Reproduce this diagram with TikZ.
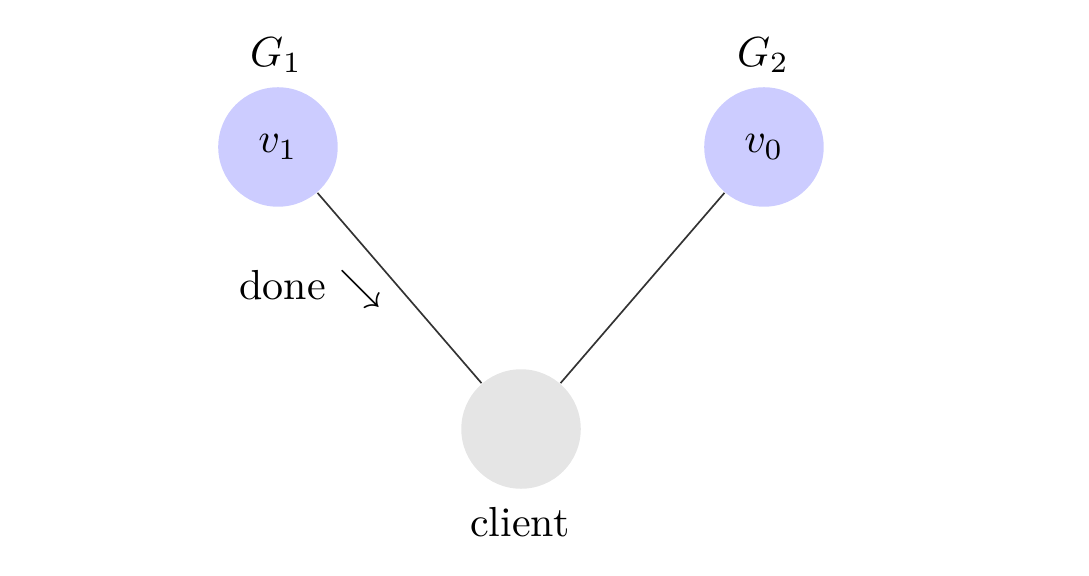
\documentclass[tikz,border=0pt]{standalone}
\begin{document}
\begin{tikzpicture}[
  vnode/.style={circle, fill=blue!20, minimum size=1cm, inner sep=0pt},
  cnode/.style={circle, fill=gray!20, minimum size=1cm, inner sep=0pt},
  lbl/.style={inner sep=0pt},
  edge/.style={draw=black!80, line width=0.4pt}
]
\useasboundingbox (0,0) rectangle (9.113,-4.820);
\node[vnode] (v1) at (2.326,-1.230) {$v_1$};
\node[vnode] (v0) at (6.393,-1.230) {$v_0$};
\node[cnode] (client) at (4.360,-3.590) {};
\node[lbl] (g1) at (2.31,-0.46) {$G_1$};
\node[lbl] (g2) at (6.385,-0.46) {$G_2$};
\node[lbl] (clbl) at (4.35,-4.37) {client};
\node[lbl] (done) at (2.60,-2.42) {done $\searrow$};
\draw[edge] (v1) -- (client);
\draw[edge] (v0) -- (client);
\end{tikzpicture}
\end{document}
